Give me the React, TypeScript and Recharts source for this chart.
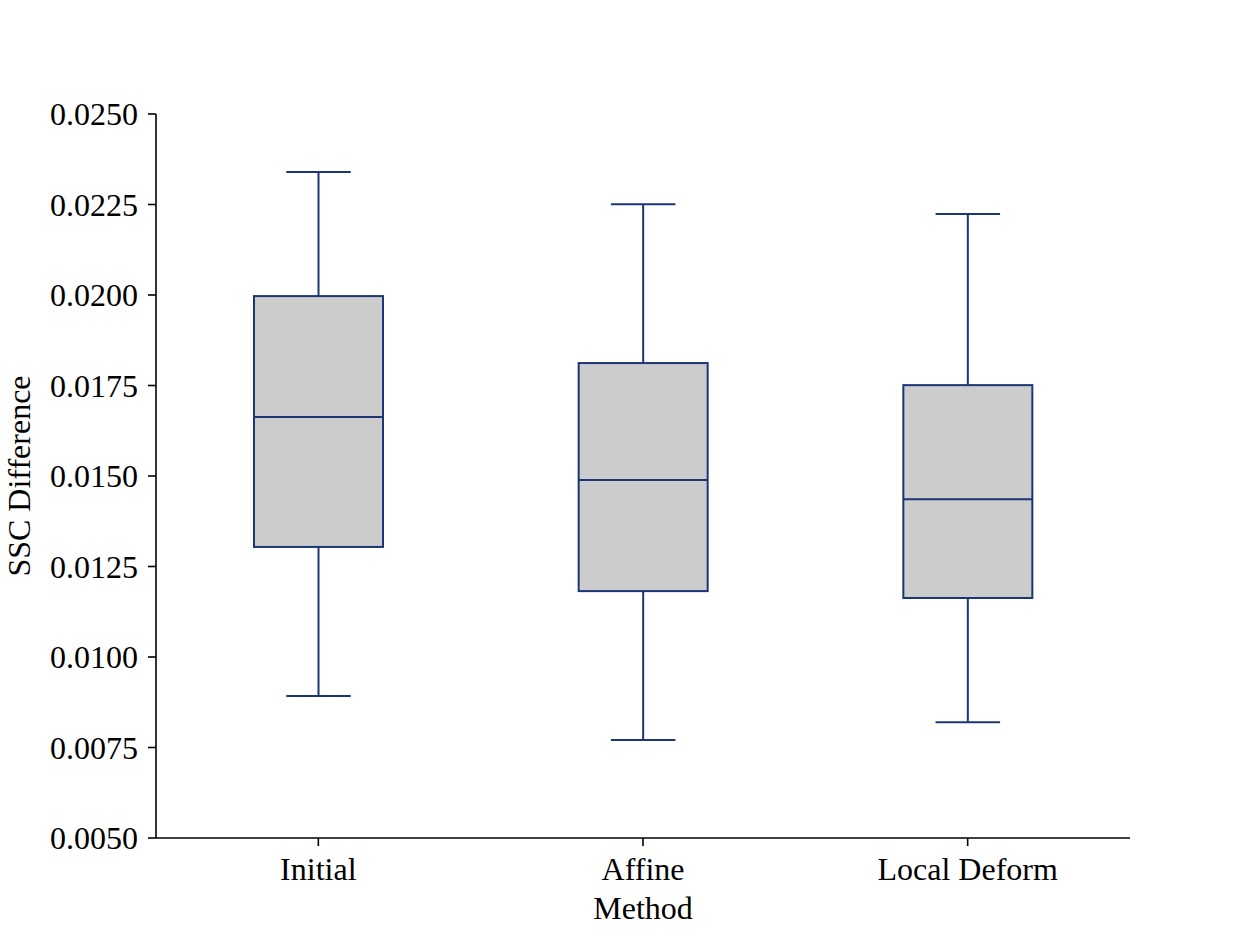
import React from 'react';
import { ComposedChart, Bar, XAxis, YAxis, Label } from 'recharts';

const methods = ['Initial', 'Affine', 'Local Deform'];
const whiskerLow = [0.00892, 0.00771, 0.0082];
const q1 = [0.01304, 0.01182, 0.01163];
const median = [0.01663, 0.01489, 0.01436];
const q3 = [0.01997, 0.01812, 0.01751];
const whiskerHigh = [0.0234, 0.02251, 0.02224];
const yTicks = [0.005, 0.0075, 0.01, 0.0125, 0.015, 0.0175, 0.02, 0.0225, 0.025];

const data = methods.map((m, i) => ({
  method: m,
  min: whiskerLow[i],
  q1: q1[i],
  median: median[i],
  q3: q3[i],
  max: whiskerHigh[i],
}));

const EDGE = '#1b3576';
const FONT = "'Liberation Serif', 'Times New Roman', serif";
const FS = 32;

function BoxShape(props: any) {
  const { x, y, width, height, payload } = props;
  const { min, max } = payload;
  const py = (v: number) => y + (height * (max - v)) / (max - min);
  const cx = x + width / 2;
  const capHalf = width / 4;
  const top = py(payload.q3);
  const bottom = py(payload.q1);
  return (
    <g>
      <line x1={cx} x2={cx} y1={py(max)} y2={top} stroke={EDGE} strokeWidth={2} />
      <line x1={cx} x2={cx} y1={bottom} y2={py(min)} stroke={EDGE} strokeWidth={2} />
      <line x1={cx - capHalf} x2={cx + capHalf} y1={py(max)} y2={py(max)} stroke={EDGE} strokeWidth={2} />
      <line x1={cx - capHalf} x2={cx + capHalf} y1={py(min)} y2={py(min)} stroke={EDGE} strokeWidth={2} />
      <rect x={x} y={top} width={width} height={bottom - top} fill="#cccccc" stroke={EDGE} strokeWidth={2} />
      <line x1={x} x2={x + width} y1={py(payload.median)} y2={py(payload.median)} stroke={EDGE} strokeWidth={2} />
    </g>
  );
}

export default function App() {
  return (
    <div style={{ position: 'absolute', left: 0, top: 0, background: '#fff' }}>
      <ComposedChart
        width={1256}
        height={942}
        data={data}
        margin={{ top: 114, right: 126, bottom: 0, left: 0 }}
      >
        <XAxis
          dataKey="method"
          height={104}
          stroke="#000"
          strokeWidth={1.6}
          tickSize={8}
          tickMargin={11}
          tick={{ fill: '#000', fontSize: FS, fontFamily: FONT }}
        >
          <Label
            value="Method"
            position="insideBottom"
            offset={23}
            style={{ fill: '#000', fontSize: FS, fontFamily: FONT }}
          />
        </XAxis>
        <YAxis
          width={156}
          domain={[0.005, 0.025]}
          ticks={yTicks}
          type="number"
          allowDataOverflow
          tickFormatter={(v: number) => v.toFixed(4)}
          stroke="#000"
          strokeWidth={1.6}
          tickSize={8}
          tickMargin={10}
          tick={{ fill: '#000', fontSize: FS, fontFamily: FONT }}
        >
          <Label
            content={(p: any) => {
              const vb = p.viewBox;
              const cy = vb.y + vb.height / 2;
              return (
                <text
                  x={30}
                  y={cy}
                  transform={`rotate(-90 30 ${cy})`}
                  textAnchor="middle"
                  fill="#000"
                  fontSize={FS}
                  fontFamily={FONT}
                >
                  SSC Difference
                </text>
              );
            }}
          />
        </YAxis>
        <Bar
          dataKey={(d: any) => [d.min, d.max]}
          barSize={129}
          shape={<BoxShape />}
          isAnimationActive={false}
        />
      </ComposedChart>
    </div>
  );
}
